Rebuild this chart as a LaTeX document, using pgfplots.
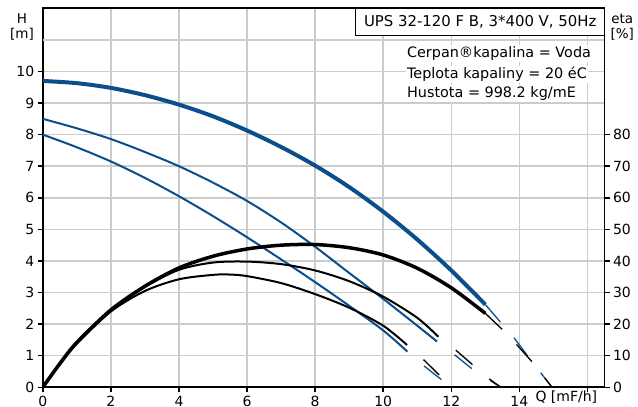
\documentclass[border=0pt]{standalone}
\usepackage{fontspec}
\setmainfont{DejaVu Sans}
\usepackage{pgfplots}
\pgfplotsset{compat=1.18}
\definecolor{hblue}{RGB}{12,78,140}
\definecolor{gridgray}{RGB}{204,204,204}
\newcommand{\tfont}{\fontsize{14bp}{16bp}\selectfont}
\begin{document}
\begin{tikzpicture}
\pgfplotsset{
  common/.style={
    scale only axis, width=561.7bp, height=379bp,
    xmin=0, xmax=16.5,
    axis line style={line width=1.8bp, black},
    tick align=outside, major tick length=5bp,
    tick style={line width=1.5bp, black},
    tick label style={font=\tfont},
    /pgf/number format/assume math mode=true,
  }
}
\begin{axis}[common,
  ymin=0, ymax=12,
  xtick={0,2,...,16}, xticklabels={0,2,4,6,8,10,12,14,{}},
  ytick={0,1,...,10},
  xtick pos=bottom, ytick pos=left,
  grid=major, major grid style={gridgray, line width=1.5bp},
  extra y ticks={11}, extra y tick labels={}, extra y tick style={major tick length=0pt},
  extra x ticks={15.38}, extra x tick labels={Q [mF/h]}, extra x tick style={major tick length=0pt, xmajorgrids=false},
  clip mode=individual,
]
% H curves
\addplot[hblue, line width=4bp, smooth] coordinates {(0,9.7)(1,9.63)(2,9.48)(3,9.25)(4,8.95)(5,8.58)(6,8.13)(7,7.61)(8,7.02)(9,6.34)(10,5.56)(11,4.68)(12,3.70)(13,2.62)};
\addplot[hblue, line width=2bp, smooth] coordinates {(0,8.5)(1,8.2)(2,7.86)(3,7.45)(4,7.0)(5,6.48)(6,5.9)(7,5.22)(8,4.45)(9,3.62)(10,2.8)(11,1.95)(11.58,1.45)};
\addplot[hblue, line width=2bp, smooth] coordinates {(0,8.0)(1,7.6)(2,7.15)(3,6.63)(4,6.05)(5,5.42)(6,4.75)(7,4.05)(8,3.33)(9,2.58)(10,1.8)(10.71,1.13)};
% eta curves (scaled /10)
\addplot[black, line width=3.5bp, smooth] coordinates {(0,0)(0.5,0.75)(1,1.42)(2,2.45)(3,3.2)(4,3.78)(5,4.15)(6,4.38)(7,4.5)(8,4.52)(9,4.42)(10,4.19)(11,3.77)(12,3.15)(13,2.34)};
\addplot[black, line width=2bp, smooth] coordinates {(0,0)(0.5,0.75)(1,1.42)(2,2.45)(3,3.18)(4,3.72)(5,3.95)(6,3.98)(7,3.9)(8,3.7)(9,3.36)(10,2.87)(11,2.2)(11.62,1.6)};
\addplot[black, line width=2bp, smooth] coordinates {(0,0)(0.5,0.72)(1,1.38)(2,2.4)(3,3.05)(4,3.42)(5,3.56)(5.5,3.57)(6,3.52)(7,3.3)(8,2.95)(9,2.52)(10,1.95)(10.7,1.34)};
% extensions
\addplot[hblue, line width=1.3bp, dash pattern=on 23bp off 21bp] coordinates {(13,2.62)(13.43,2.08)(13.87,1.53)(14.37,0.81)(14.96,0)};
\addplot[black, line width=1.3bp, dash pattern=on 23bp off 21bp] coordinates {(13,2.34)(13.49,1.84)(13.93,1.34)(14.37,0.81)(14.96,0)};
\addplot[hblue, line width=1.3bp, dash pattern=on 22bp off 22bp, dash phase=22bp] coordinates {(11.58,1.45)(12.13,1.0)(12.65,0.55)(13.16,0.2)(13.45,0)};
\addplot[black, line width=1.3bp, dash pattern=on 22bp off 22bp, dash phase=22bp] coordinates {(11.62,1.6)(12.16,1.15)(12.63,0.71)(13.16,0.23)(13.46,0)};
\addplot[hblue, line width=1.3bp, dash pattern=on 22bp off 22bp, dash phase=22bp] coordinates {(10.71,1.13)(11.23,0.65)(11.75,0.21)(12.0,0)};
\addplot[black, line width=1.3bp, dash pattern=on 22bp off 22bp, dash phase=22bp] coordinates {(10.7,1.34)(11.23,0.83)(11.69,0.34)(12.03,0)};
% annotation boxes
\draw[line width=1bp, fill=white] (axis cs:9.2,11.13) rectangle (axis cs:16.5,12);
\node[font=\fontsize{14.9bp}{16bp}\selectfont, inner sep=0pt] at (axis cs:12.85,11.565) {UPS 32-120 F B, 3*400 V, 50Hz};
\node[anchor=base west, fill=white, inner sep=1.5bp, font=\fontsize{14.4bp}{16bp}\selectfont] at (axis cs:10.65,10.43) {Cerpan®kapalina = Voda};
\node[anchor=base west, fill=white, inner sep=1.5bp, font=\fontsize{14.4bp}{16bp}\selectfont] at (axis cs:10.65,9.77) {Teplota kapaliny = 20 éC};
\node[anchor=base west, fill=white, inner sep=1.5bp, font=\fontsize{14.4bp}{16bp}\selectfont] at (axis cs:10.65,9.17) {Hustota = 998.2 kg/mE};
\end{axis}
\begin{axis}[common,
  ymin=0, ymax=120,
  axis x line=none, axis y line*=right,
  ytick={0,10,...,80},
]
\end{axis}
\node[anchor=base, font=\fontsize{13.5bp}{15bp}\selectfont] at (-20.8bp,363.5bp) {H};
\node[anchor=base, font=\fontsize{13.5bp}{15bp}\selectfont] at (-20.8bp,349bp) {[m]};
\node[anchor=base, font=\fontsize{13.5bp}{15bp}\selectfont] at (579.5bp,363.5bp) {eta};
\node[anchor=base, font=\fontsize{13.5bp}{15bp}\selectfont] at (579.5bp,349bp) {[\%]};
\pgfresetboundingbox
\path[use as bounding box] (-42.8bp,-19.7bp) rectangle (595.2bp,387.3bp);
\end{tikzpicture}
\end{document}
